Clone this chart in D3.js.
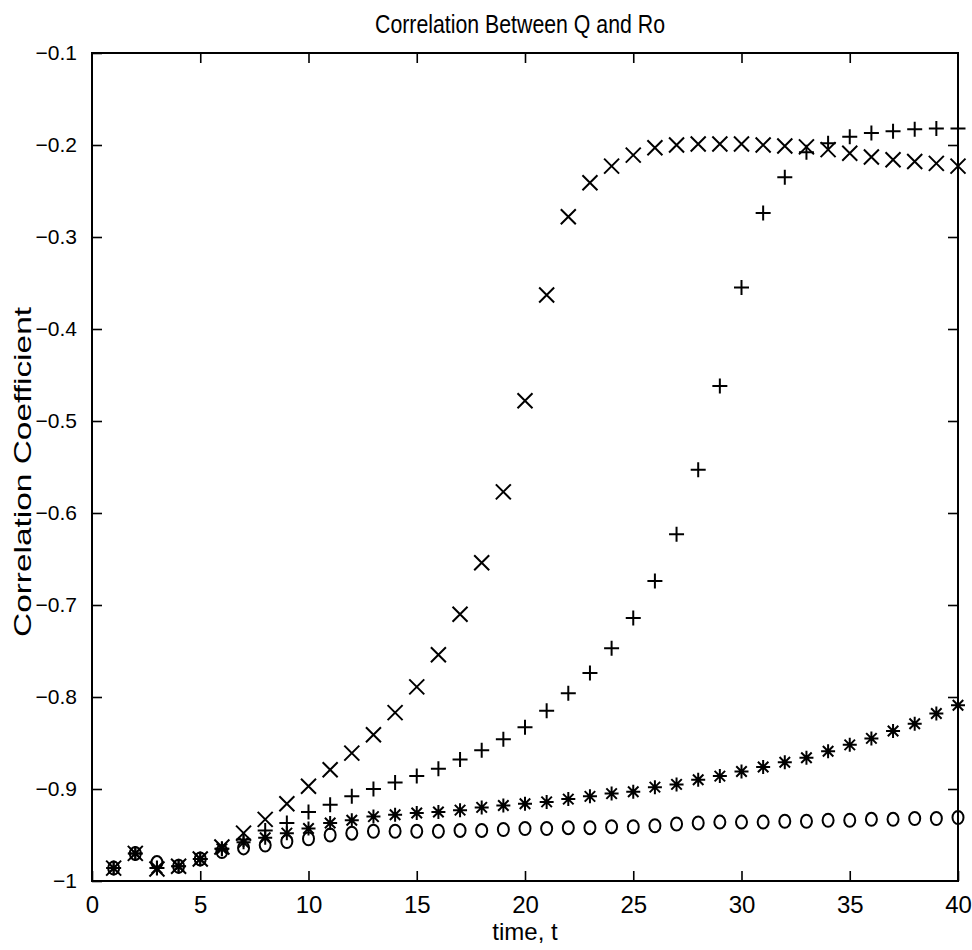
<!DOCTYPE html>
<html>
<head>
<meta charset="utf-8">
<script src="https://cdn.jsdelivr.net/npm/d3@7"></script>
<style>
  html, body { margin: 0; padding: 0; background: #fff; }
  svg { display: block; }
  text { font-family: "Liberation Sans", Arial, Helvetica, sans-serif; fill: #000; }
</style>
</head>
<body>
<svg id="chart" width="972" height="950"></svg>
<script>
// ---- data ----
const times = d3.range(1, 41);
const seriesCircle = [-0.986,-0.970,-0.980,-0.984,-0.976,-0.968,-0.964,-0.961,-0.957,-0.954,
  -0.950,-0.948,-0.946,-0.946,-0.946,-0.946,-0.945,-0.945,-0.944,-0.943,
  -0.943,-0.942,-0.942,-0.941,-0.941,-0.940,-0.938,-0.937,-0.936,-0.936,
  -0.936,-0.935,-0.935,-0.934,-0.934,-0.933,-0.933,-0.932,-0.932,-0.931];
const seriesStar = [-0.986,-0.970,-0.986,-0.984,-0.976,-0.965,-0.958,-0.953,-0.948,-0.943,
  -0.937,-0.934,-0.930,-0.928,-0.926,-0.925,-0.923,-0.920,-0.918,-0.916,
  -0.914,-0.911,-0.908,-0.905,-0.903,-0.898,-0.895,-0.890,-0.886,-0.881,
  -0.876,-0.871,-0.866,-0.859,-0.852,-0.845,-0.837,-0.829,-0.818,-0.809];
const seriesPlus = [-0.986,-0.970,-0.986,-0.984,-0.976,-0.965,-0.955,-0.945,-0.937,-0.925,
  -0.917,-0.908,-0.900,-0.893,-0.886,-0.878,-0.868,-0.858,-0.846,-0.833,
  -0.815,-0.796,-0.774,-0.747,-0.714,-0.674,-0.623,-0.553,-0.462,-0.355,
  -0.274,-0.235,-0.208,-0.198,-0.191,-0.187,-0.185,-0.183,-0.182,-0.182];
const seriesCross = [-0.986,-0.970,-0.987,-0.984,-0.976,-0.963,-0.948,-0.933,-0.916,-0.897,
  -0.879,-0.861,-0.841,-0.817,-0.789,-0.754,-0.710,-0.654,-0.577,-0.478,
  -0.363,-0.278,-0.241,-0.223,-0.211,-0.203,-0.200,-0.199,-0.199,-0.199,
  -0.200,-0.201,-0.202,-0.205,-0.209,-0.213,-0.216,-0.218,-0.220,-0.223];
const xTicks = [0, 5, 10, 15, 20, 25, 30, 35, 40];
const xTickLabels = ["0","5","10","15","20","25","30","35","40"];
const yTicks = [-1, -0.9, -0.8, -0.7, -0.6, -0.5, -0.4, -0.3, -0.2, -0.1];
const yTickLabels = ["\u22121","\u22120.9","\u22120.8","\u22120.7","\u22120.6","\u22120.5","\u22120.4","\u22120.3","\u22120.2","\u22120.1"];
const titleText = "Correlation Between Q and Ro";
const xLabelText = "time, t";
const yLabelText = "Correlation Coefficient";

// ---- layout ----
const L = 92, R = 958, T = 53, B = 881;
const x = d3.scaleLinear().domain([0, 40]).range([L, R]);
const y = d3.scaleLinear().domain([-1, -0.1]).range([B, T]);
const svg = d3.select("#chart");

// custom MATLAB-like symbols (line markers)
const symX = { draw(ctx, size) { const h = Math.sqrt(size) / 2;
  ctx.moveTo(-h, -h); ctx.lineTo(h, h); ctx.moveTo(-h, h); ctx.lineTo(h, -h); } };
const symPlus = { draw(ctx, size) { const h = Math.sqrt(size) / 2;
  ctx.moveTo(-h, 0); ctx.lineTo(h, 0); ctx.moveTo(0, -h); ctx.lineTo(0, h); } };
const symStar = { draw(ctx, size) { const h = Math.sqrt(size) / 2, d = h * 0.75;
  ctx.moveTo(-h, 0); ctx.lineTo(h, 0); ctx.moveTo(0, -h); ctx.lineTo(0, h);
  ctx.moveTo(-d, -d); ctx.lineTo(d, d); ctx.moveTo(-d, d); ctx.lineTo(d, -d); } };

// axes box
svg.append("rect").attr("x", L).attr("y", T).attr("width", R - L).attr("height", B - T)
  .attr("fill", "none").attr("stroke", "#000").attr("stroke-width", 2);

const tickLen = 10;
const xAxisB = d3.axisBottom(x).tickValues(xTicks).tickSize(-tickLen).tickPadding(tickLen + 5)
  .tickFormat((d, i) => xTickLabels[i]);
const gxb = svg.append("g").attr("transform", `translate(0,${B})`).call(xAxisB);
gxb.select(".domain").remove();
gxb.attr("font-family", null);
gxb.selectAll("line").attr("stroke", "#000").attr("stroke-width", 1.6);
gxb.selectAll("text").style("font-size", "24px");

const xAxisT = d3.axisTop(x).tickValues(xTicks.slice(1, -1)).tickSize(-tickLen).tickFormat("");
const gxt = svg.append("g").attr("transform", `translate(0,${T})`).call(xAxisT);
gxt.select(".domain").remove();
gxt.selectAll("line").attr("stroke", "#000").attr("stroke-width", 1.6);

const yAxisL = d3.axisLeft(y).tickValues(yTicks).tickSize(-tickLen).tickPadding(tickLen + 5)
  .tickFormat((d, i) => yTickLabels[i]);
const gyl = svg.append("g").attr("transform", `translate(${L},0)`).call(yAxisL);
gyl.select(".domain").remove();
gyl.attr("font-family", null);
gyl.selectAll("line").attr("stroke", "#000").attr("stroke-width", 1.6);
gyl.selectAll("text").style("font-size", "21px");

const yAxisR = d3.axisRight(y).tickValues(yTicks.slice(1, -1)).tickSize(-tickLen).tickFormat("");
const gyr = svg.append("g").attr("transform", `translate(${R},0)`).call(yAxisR);
gyr.select(".domain").remove();
gyr.selectAll("line").attr("stroke", "#000").attr("stroke-width", 1.6);

// ---- markers ----
const gm = svg.append("g");
const mk = (data, type, size) => gm.append("g").selectAll("path").data(data).join("path")
  .attr("transform", (d, i) => `translate(${x(times[i])},${y(d)})`)
  .attr("d", d3.symbol().type(type).size(size))
  .attr("fill", "none").attr("stroke", "#000").attr("stroke-width", 2);

gm.append("g").selectAll("ellipse").data(seriesCircle).join("ellipse")
  .attr("cx", (d, i) => x(times[i])).attr("cy", d => y(d)).attr("rx", 5.5).attr("ry", 6.5)
  .attr("fill", "none").attr("stroke", "#000").attr("stroke-width", 2);
mk(seriesStar, symStar, 14 * 14);
mk(seriesPlus, symPlus, 15 * 15);
mk(seriesCross, symX, 15 * 15);

// ---- labels ----
svg.append("text").attr("x", (L + R) / 2 - 5).attr("y", 33).attr("text-anchor", "middle")
  .attr("textLength", 290).attr("lengthAdjust", "spacingAndGlyphs")
  .style("font-size", "25px").text(titleText);
svg.append("text").attr("x", (L + R) / 2).attr("y", 940).attr("text-anchor", "middle")
  .style("font-size", "24px").text(xLabelText);
svg.append("text").attr("transform", `translate(31,${(T + B) / 2 + 5}) rotate(-90)`)
  .attr("text-anchor", "middle").attr("textLength", 330).attr("lengthAdjust", "spacingAndGlyphs")
  .style("font-size", "24px").text(yLabelText);
</script>
</body>
</html>
